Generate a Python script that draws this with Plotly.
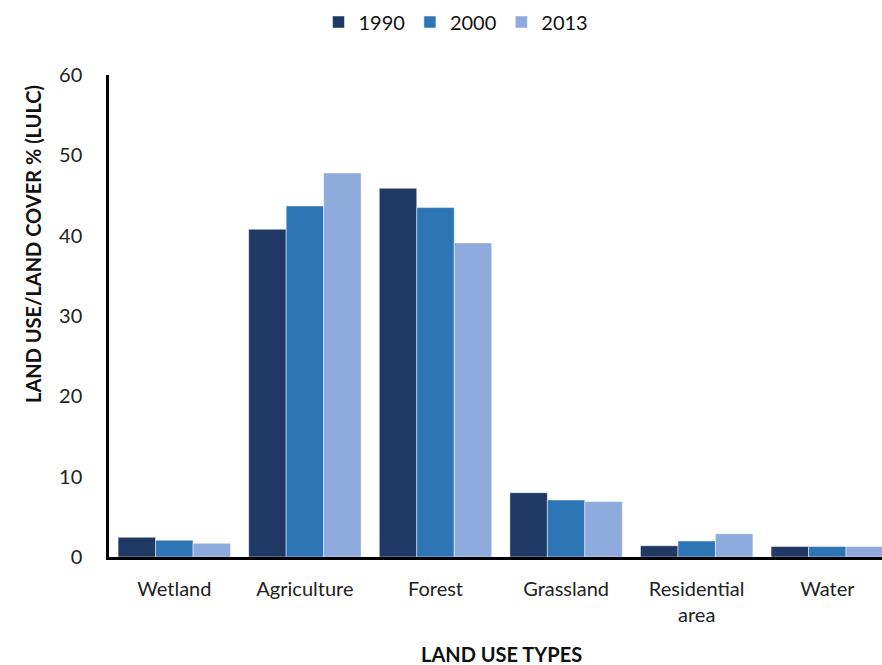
import plotly.graph_objects as go

categories = ["Wetland", "Agriculture", "Forest", "Grassland", "Residential<br>area", "Water"]
years = ["1990", "2000", "2013"]
values_1990 = [2.45, 40.8, 45.9, 8.0, 1.4, 1.3]
values_2000 = [2.1, 43.7, 43.5, 7.1, 2.0, 1.3]
values_2013 = [1.7, 47.8, 39.1, 6.9, 2.9, 1.3]
colors = ["#203864", "#2E75B6", "#8FAADC"]
y_ticks = [0, 10, 20, 30, 40, 50, 60]

FONT = "Lato, 'Open Sans', sans-serif"

fig = go.Figure()
for name, vals, col in zip(years, [values_1990, values_2000, values_2013], colors):
    fig.add_trace(go.Bar(
        x=list(range(len(categories))), y=vals, name=name,
        marker=dict(color=col, line=dict(color="rgba(255,255,255,0.6)", width=0.8)),
    ))

W, H = 882, 665
L, T = 109, 75
B = H - 557
pw = W - L
ph = H - T - B
step = 130.6
xr_end = -0.5 + pw / step


def px_x(x):
    return (x - L) / pw


def px_y(y):
    return (557 - y) / ph


fig.update_layout(
    width=W, height=H,
    margin=dict(l=L, r=0, t=T, b=B, pad=0, autoexpand=False),
    paper_bgcolor="white", plot_bgcolor="white",
    barmode="group", bargap=0.139, bargroupgap=0,
    font=dict(family=FONT, color="#222222", size=20),
    showlegend=True,
    legend=dict(orientation="h", xref="paper", yref="paper",
                x=px_x(456), y=px_y(22), xanchor="center", yanchor="middle",
                font=dict(family=FONT, size=20, color="#111111"),
                itemwidth=30, traceorder="normal"),
    xaxis=dict(
        tickmode="array", tickvals=list(range(len(categories))), ticktext=categories,
        range=[-0.5, xr_end], showgrid=False, zeroline=False,
        showline=True, linecolor="black", linewidth=2.5, ticks="",
        tickfont=dict(family=FONT, size=20, color="#222222"),
        ticklabelstandoff=12,
    ),
    yaxis=dict(
        range=[0, 60], tickmode="array", tickvals=y_ticks,
        showgrid=False, zeroline=False, showline=True, linecolor="black", linewidth=2.5,
        ticks="", tickfont=dict(family=FONT, size=20, color="#222222"),
        ticklabelstandoff=20,
    ),
    annotations=[
        dict(text="<b>LAND USE/LAND COVER % (LULC)</b>", xref="paper", yref="paper",
             x=px_x(33), y=px_y(244), textangle=-90, showarrow=False,
             xanchor="center", yanchor="middle",
             font=dict(family=FONT, size=20, color="#111111")),
        dict(text="<b>LAND USE TYPES</b>", xref="paper", yref="paper",
             x=px_x(501), y=px_y(654), showarrow=False,
             xanchor="center", yanchor="middle",
             font=dict(family=FONT, size=20, color="#111111")),
    ],
)

fig.write_html(
    "out.html",
    config={"displayModeBar": False},
    post_script="document.body.style.margin='0';document.body.style.overflow='hidden';",
)
